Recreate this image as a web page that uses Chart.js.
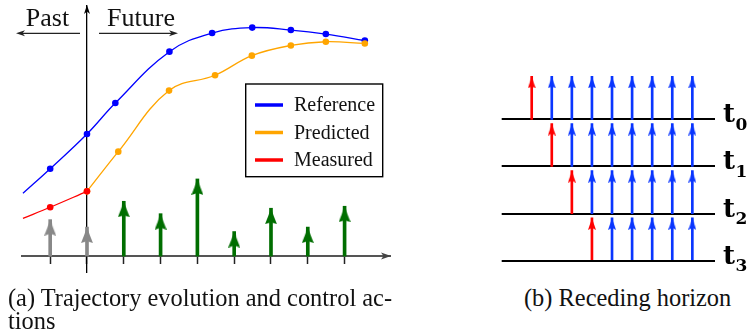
<!DOCTYPE html>
<html><head><meta charset="utf-8">
<script src="https://cdn.jsdelivr.net/npm/chart.js@4.4.0/dist/chart.umd.min.js"></script>
<style>
html,body{margin:0;padding:0;background:#fff;width:753px;height:335px;overflow:hidden}
#a{position:absolute;left:0;top:0}
#b{position:absolute;left:480px;top:60px}
.cap{position:absolute;font-family:"Liberation Serif","Times New Roman",Times,"DejaVu Serif";color:#111;font-size:24.4px;line-height:23px;white-space:nowrap}
</style></head><body>
<canvas id="a" width="400" height="285"></canvas>
<canvas id="b" width="273" height="220"></canvas>
<div class="cap" style="left:8px;top:286px">(a) Trajectory evolution and control ac-<br>tions</div>
<div class="cap" style="left:524px;top:286px">(b) Receding horizon</div>
<script>
// ---------- data: (a) trajectory evolution ----------
const refSteps   = [-1.74, -1, 0, 0.77, 2.24, 3.40, 4.49, 5.54, 6.49, 7.55];
const refValues  = [2.53, 3.52, 4.92, 6.17, 8.24, 8.99, 9.21, 9.11, 8.95, 8.69];
const predSteps  = [0, 0.85, 2.23, 3.48, 4.48, 5.54, 6.49, 7.55];
const predValues = [2.61, 4.21, 6.67, 7.29, 8.08, 8.49, 8.64, 8.57];
const measSteps  = [-1.74, -1, 0];
const measValues = [1.52, 1.97, 2.61];
const pastSteps     = [-1, 0];
const pastActions   = [1.47, 1.17];
const futureSteps   = [1, 2, 3, 4, 5, 6, 7];
const futureActions = [2.21, 1.71, 3.11, 0.99, 1.93, 1.17, 2.01];
const axisTicks  = [-1, 0, 1, 2, 3, 4, 5, 6, 7];
const seriesLabels = ['Reference', 'Predicted', 'Measured'];
const pastLabel = 'Past', futureLabel = 'Future';

// ---------- data: (b) receding horizon ----------
const horizonLabels = ['0', '1', '2', '3'];   // subscripts of t
const horizonFirst  = [0, 1, 2, 3];   // column of the applied (red) action in each row
const horizonLast   = 8;              // last column of the horizon
const actionLength  = 0.91;           // arrow length in row units

const SERIF = '"Liberation Serif","Times New Roman",Times,"DejaVu Serif"';
const C = {blue:'#0000ff', orange:'#ffa500', red:'#ff0000', green:'#006e00', gray:'#888888', hblue:'#0a36ff'};

function headImg(color, w, l, notch) {
  const c = document.createElement('canvas');
  c.width = w; c.height = 2 * l;
  const g = c.getContext('2d');
  g.fillStyle = color;
  g.beginPath();
  g.moveTo(w / 2, l);
  g.quadraticCurveTo(w / 2 + w * 0.2, l * 1.45, w, 2 * l);
  g.lineTo(w / 2, 2 * l - notch);
  g.lineTo(0, 2 * l);
  g.quadraticCurveTo(w / 2 - w * 0.2, l * 1.45, w / 2, l);
  g.closePath(); g.fill();
  return c;
}
function arrowHead(ctx, tx, ty, ang, len, wid, color) {
  ctx.save(); ctx.translate(tx, ty); ctx.rotate(ang);
  ctx.fillStyle = color; ctx.beginPath();
  ctx.moveTo(0, 0); ctx.lineTo(-len, wid / 2); ctx.lineTo(-len + 2.5, 0); ctx.lineTo(-len, -wid / 2);
  ctx.closePath(); ctx.fill(); ctx.restore();
}
function seg(ctx, x1, y1, x2, y2, color, w) {
  ctx.save(); ctx.strokeStyle = color; ctx.lineWidth = w;
  ctx.beginPath(); ctx.moveTo(x1, y1); ctx.lineTo(x2, y2); ctx.stroke(); ctx.restore();
}
const pts = (xs, ys) => xs.map((x, i) => ({x, y: ys[i]}));
const stems = (xs, ys) => xs.map((x, i) => ({x, y: [0, ys[i]]}));

const decorA = {
  id: 'decorA',
  afterDraw(chart) {
    const {ctx, chartArea: ca, scales: {x, y}} = chart;
    const x0 = x.getPixelForValue(0), y0 = y.getPixelForValue(0);
    arrowHead(ctx, ca.right + 1, y0, 0, 10, 7, '#444');
    arrowHead(ctx, x0, ca.top - 1, -Math.PI / 2, 9, 6, '#000');
    ctx.save();
    ctx.font = '26px ' + SERIF; ctx.fillStyle = '#111';
    ctx.textAlign = 'center'; ctx.textBaseline = 'alphabetic';
    ctx.fillText(pastLabel, 47.5, 25.5);
    ctx.fillText(futureLabel, 141, 25.5);
    ctx.restore();
    seg(ctx, 80, 33.3, 20, 33.3, '#222', 1.3); arrowHead(ctx, 16, 33.3, Math.PI, 9, 6, '#222');
    seg(ctx, 99, 33.3, 174, 33.3, '#222', 1.3); arrowHead(ctx, 178, 33.3, 0, 9, 6, '#222');
    const L = {x: 245.7, y: 84, w: 137, h: 92.7};
    ctx.save();
    ctx.fillStyle = '#fff'; ctx.fillRect(L.x, L.y, L.w, L.h);
    ctx.strokeStyle = '#000'; ctx.lineWidth = 1.4; ctx.strokeRect(L.x, L.y, L.w, L.h);
    ctx.font = '20px ' + SERIF; ctx.fillStyle = '#111';
    ctx.textAlign = 'left'; ctx.textBaseline = 'middle';
    chart.data.datasets.filter(d => d.legend).forEach((d, i) => {
      const yy = 105 + i * 27.5;
      seg(ctx, 255, yy, 283, yy, d.borderColor, 3.5);
      ctx.fillText(d.label, 294, yy + 1);
    });
    ctx.restore();
  }
};

const lineDs = (label, xs, ys, color, order, firstHidden) => ({
  type: 'line', label, legend: true, data: pts(xs, ys), order,
  borderColor: color, backgroundColor: color, borderWidth: 1.3,
  tension: 0.4, fill: false,
  pointRadius: c => (firstHidden && c.dataIndex === 0) ? 0 : 3.3,
  pointBorderWidth: 0, pointHoverRadius: 3.3
});

new Chart(document.getElementById('a'), {
  type: 'scatter',
  data: {
    datasets: [
      {type: 'scatter', data: pts(pastSteps, pastActions), order: 0, pointStyle: headImg(C.gray, 12, 16, 2), pointRadius: 5},
      {type: 'scatter', data: pts(futureSteps, futureActions), order: 0, pointStyle: headImg(C.green, 12, 16, 2), pointRadius: 5},
      lineDs(seriesLabels[0], refSteps, refValues, C.blue, 3, true),
      lineDs(seriesLabels[1], predSteps, predValues, C.orange, 2, false),
      lineDs(seriesLabels[2], measSteps, measValues, C.red, 1, true),
      {type: 'bar', data: stems(pastSteps, pastActions), order: 5, backgroundColor: C.gray, barThickness: 3, grouped: false},
      {type: 'bar', data: stems(futureSteps, futureActions), order: 5, backgroundColor: C.green, barThickness: 3, grouped: false}
    ]
  },
  options: {
    responsive: false, animation: false, devicePixelRatio: 1,
    layout: {padding: {left: 22, top: 4, right: 10, bottom: 13}},
    plugins: {legend: {display: false}, tooltip: {enabled: false}},
    scales: {
      x: {type: 'linear', position: {y: 0}, min: -1.766, max: 8.234, offset: false,
          afterBuildTicks: s => { s.ticks = axisTicks.map(v => ({value: v})); },
          ticks: {display: false},
          grid: {offset: false, drawOnChartArea: false, drawTicks: true, tickLength: 7, tickColor: '#222', tickWidth: 1.5},
          border: {display: true, color: '#555', width: 2}},
      y: {type: 'linear', position: {x: 0}, min: -0.64, max: 10.08,
          ticks: {display: false},
          grid: {display: false},
          border: {display: true, color: '#000', width: 1.3}}
    }
  },
  plugins: [decorA]
});

// ---------- (b) ----------
const nRows = horizonLabels.length;
const redPts = [], bluePts = [], redStems = [], blueStems = [];
horizonFirst.forEach((c0, r) => {
  const base = nRows - 1 - r;
  redPts.push({x: c0, y: base + actionLength});
  redStems.push({x: c0, y: [base, base + actionLength]});
  for (let c = c0 + 1; c <= horizonLast; c++) {
    bluePts.push({x: c, y: base + actionLength});
    blueStems.push({x: c, y: [base, base + actionLength]});
  }
});

const labelsB = {
  id: 'labelsB',
  afterDraw(chart) {
    const {ctx, scales: {y}} = chart;
    ctx.save();
    ctx.fillStyle = '#000'; ctx.textAlign = 'left'; ctx.textBaseline = 'alphabetic';
    y.ticks.forEach(t => {
      const py = y.getPixelForValue(t.value);
      const sub = horizonLabels[nRows - 1 - t.value];
      ctx.font = 'bold 26px "DejaVu Serif"';
      ctx.fillText('t', 243, py + 3);
      const w = ctx.measureText('t').width;
      ctx.font = 'bold 17px "DejaVu Serif"';
      ctx.fillText(sub, 243 + w + 0.5, py + 10.5);
    });
    ctx.restore();
  }
};

new Chart(document.getElementById('b'), {
  type: 'scatter',
  data: {
    datasets: [
      {type: 'scatter', data: redPts, order: 0, pointStyle: headImg(C.red, 8, 12, 2), pointRadius: 4},
      {type: 'scatter', data: bluePts, order: 0, pointStyle: headImg(C.hblue, 8, 12, 2), pointRadius: 4},
      {type: 'bar', data: redStems, order: 5, backgroundColor: C.red, barThickness: 2, grouped: false},
      {type: 'bar', data: blueStems, order: 5, backgroundColor: C.hblue, barThickness: 2, grouped: false}
    ]
  },
  options: {
    responsive: false, animation: false, devicePixelRatio: 1,
    layout: {padding: {left: 21.7, top: 10, right: 0, bottom: 10}},
    plugins: {legend: {display: false}, tooltip: {enabled: false}},
    scales: {
      x: {type: 'linear', display: false, min: -1.494, max: 9.128, offset: false, grid: {offset: false}},
      y: {type: 'linear', position: 'right', min: -0.197, max: 4.046,
          afterBuildTicks: s => { s.ticks = horizonLabels.map((_, i) => ({value: i})); },
          afterFit: s => { s.width = 38; },
          ticks: {display: false},
          grid: {color: '#000', lineWidth: 2, drawTicks: false},
          border: {display: false}}
    }
  },
  plugins: [labelsB]
});
</script>
</body></html>
